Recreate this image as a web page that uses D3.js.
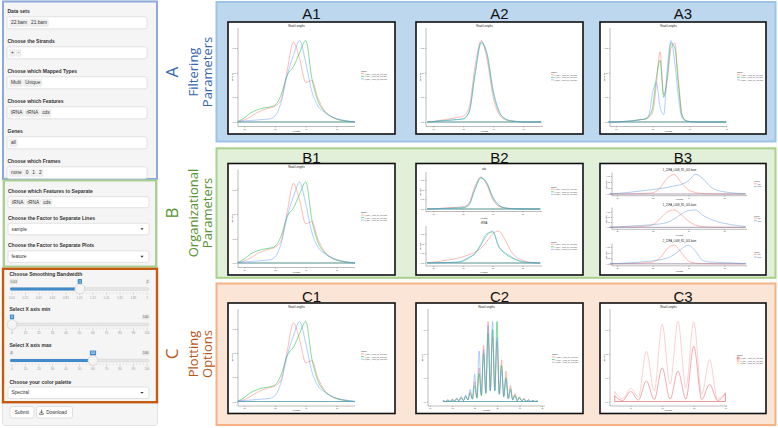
<!DOCTYPE html>
<html>
<head>
<meta charset="utf-8">
<script src="https://cdn.jsdelivr.net/npm/d3@7/dist/d3.min.js"></script>
<style>
html,body{margin:0;padding:0;background:#fff;}
svg{display:block;}
</style>
</head>
<body>
<svg id="fig" width="778" height="428"></svg>
<script>
// ================= DATA =================
const readLengths = [19,20,21,22,23,24,25,26,27,28,29,30,31,32,33,34,35,36,37,38];
const lengthTicks = [20,25,30,35];
const sampleNames = ["1_22FA_L008_R1_001.bam","1_21FA_L008_R1_001.bam","2_22FA_L008_R1_001.bam"];
const featureNames = ["cds","tRNA"];

// A1 / B1 / C1 : all features, three samples
const a1Red   = [0.001,0.004,0.010,0.018,0.024,0.028,0.032,0.045,0.105,0.162,0.128,0.080,0.084,0.048,0.024,0.012,0.006,0.003,0.001,0.000];
const a1Green = [0.001,0.008,0.018,0.024,0.028,0.030,0.034,0.055,0.095,0.112,0.140,0.165,0.088,0.042,0.022,0.012,0.006,0.003,0.001,0.000];
const a1Blue  = [0.001,0.002,0.003,0.004,0.005,0.006,0.012,0.040,0.095,0.135,0.165,0.120,0.062,0.032,0.020,0.012,0.007,0.004,0.002,0.000];

// A2 : unique reads only
const a2Red   = [0.000,0.001,0.003,0.005,0.007,0.009,0.012,0.030,0.115,0.165,0.125,0.050,0.015,0.005,0.002,0.001,0.000,0.000,0.000,0.000];
const a2Green = [0.000,0.001,0.002,0.003,0.004,0.005,0.006,0.020,0.100,0.160,0.135,0.060,0.020,0.006,0.002,0.001,0.000,0.000,0.000,0.000];
const a2Blue  = [0.000,0.001,0.002,0.003,0.004,0.005,0.007,0.022,0.098,0.162,0.138,0.065,0.022,0.007,0.003,0.001,0.000,0.000,0.000,0.000];

// A3 : single frame
const a3Lengths = [19,20,21,22,22.5,23,23.5,24,24.5,25,25.5,26,26.5,27,27.5,28,28.5,29,29.5,30,31,32,33,35];
const a3Red   = [0,0,0.001,0.002,0.003,0.004,0.005,0.006,0.010,0.020,0.075,0.142,0.055,0.085,0.150,0.160,0.085,0.015,0.003,0.001,0,0,0,0];
const a3Green = [0,0,0.001,0.002,0.003,0.004,0.005,0.006,0.012,0.030,0.090,0.125,0.050,0.095,0.160,0.150,0.075,0.012,0.003,0.001,0,0,0,0];
const a3Blue  = [0,0,0.001,0.002,0.003,0.004,0.005,0.007,0.015,0.060,0.080,0.030,0.015,0.110,0.165,0.120,0.050,0.008,0.002,0.001,0,0,0,0];

// B2 : lower facet (upper facet reuses A2 values)
const b2BotRed   = [0.002,0.004,0.008,0.013,0.018,0.024,0.032,0.042,0.055,0.075,0.110,0.150,0.165,0.125,0.065,0.030,0.014,0.006,0.002,0.000];
const b2BotGreen = [0.001,0.001,0.002,0.002,0.003,0.004,0.010,0.025,0.050,0.095,0.150,0.160,0.085,0.050,0.030,0.015,0.006,0.002,0.001,0.000];
const b2BotBlue  = [0.001,0.001,0.002,0.002,0.003,0.004,0.012,0.030,0.045,0.090,0.140,0.165,0.090,0.055,0.035,0.018,0.008,0.003,0.001,0.000];

// B3 : one facet per sample, lines per feature
const b3f1Cds  = [0.000,0.001,0.001,0.002,0.003,0.005,0.010,0.050,0.130,0.163,0.095,0.035,0.012,0.004,0.002,0.001,0.000,0.000,0.000,0.000];
const b3f1Trna = [0.001,0.004,0.010,0.016,0.023,0.030,0.037,0.045,0.055,0.068,0.080,0.110,0.165,0.130,0.065,0.032,0.018,0.010,0.005,0.002];
const b3f2Cds  = [0.000,0.001,0.002,0.003,0.005,0.010,0.025,0.080,0.145,0.165,0.120,0.060,0.020,0.006,0.002,0.001,0.000,0.000,0.000,0.000];
const b3f2Trna = [0.001,0.004,0.008,0.012,0.016,0.020,0.025,0.032,0.045,0.080,0.125,0.160,0.165,0.115,0.080,0.055,0.038,0.025,0.015,0.008];
const b3f3Cds  = [0.000,0.001,0.002,0.003,0.005,0.008,0.015,0.050,0.130,0.165,0.100,0.025,0.006,0.002,0.001,0.000,0.000,0.000,0.000,0.000];
const b3f3Trna = [0.001,0.003,0.006,0.010,0.014,0.020,0.026,0.035,0.050,0.080,0.130,0.163,0.110,0.030,0.015,0.012,0.010,0.008,0.005,0.003];

// C2 : very small bandwidth -> one spike per read length
const c2Lengths    = [13,14,15,16,17,18,19,20,21,22,23,24,25,26,27,28,29,30,31,32,33,34];
const c2RedPeaks   = [0.01,0.02,0.03,0.04,0.05,0.07,0.12,0.25,0.42,0.70,1.00,0.80,0.75,0.52,0.38,0.20,0.10,0.06,0.04,0.02,0.01,0.01];
const c2GreenPeaks = [0.01,0.01,0.02,0.03,0.05,0.06,0.10,0.20,0.35,0.60,0.85,0.90,1.00,0.45,0.30,0.16,0.08,0.05,0.03,0.02,0.01,0.01];
const c2BluePeaks  = [0.01,0.02,0.02,0.04,0.06,0.08,0.15,0.34,0.63,0.65,0.95,1.00,0.80,0.40,0.28,0.14,0.07,0.04,0.03,0.02,0.01,0.00];
const c2RedLows    = [0.00,0.00,0.01,0.01,0.01,0.02,0.03,0.05,0.08,0.12,0.15,0.14,0.10,0.07,0.04,0.02,0.01,0.01,0.00,0.00,0.00];
const c2GreenLows  = [0.00,0.00,0.00,0.01,0.01,0.02,0.03,0.04,0.07,0.10,0.13,0.14,0.09,0.06,0.04,0.02,0.01,0.01,0.00,0.00,0.00];
const c2BlueLows   = [0.00,0.00,0.01,0.01,0.01,0.02,0.03,0.06,0.09,0.11,0.14,0.13,0.09,0.06,0.03,0.02,0.01,0.01,0.00,0.00,0.00];
const c2Ticks = [10,15,20,25,30,35];

// C3 : Spectral palette, zoomed x range
const c3Lengths = [23,23.5,24,24.5,25,25.5,26,26.5,27,27.5,28,28.5,29,29.5,30];
const c3Light   = [0.042,0.012,0.055,0.020,0.210,0.044,0.324,0.072,0.335,0.058,0.332,0.030,0.176,0.010,0.037];
const c3Dark    = [0.024,0.004,0.042,0.006,0.086,0.008,0.141,0.010,0.127,0.010,0.231,0.008,0.072,0.004,0.033];
const c3Ticks = [24,26,28,30];

// left control panel
const filterFields = [
  {label:"Data sets", tags:["22.bam","21.bam"]},
  {label:"Choose the Strands", tags:["+","-"]},
  {label:"Choose which Mapped Types", tags:["Multi","Unique"]},
  {label:"Choose which Features", tags:["tRNA","rRNA","cds"]},
  {label:"Genes", tags:["all"]},
  {label:"Choose which Frames", tags:["none","0","1","2"]}
];
const organizeFields = [
  {label:"Choose which Features to Separate", tags:["tRNA","rRNA","cds"]},
  {label:"Choose the Factor to Separate Lines", select:"sample"},
  {label:"Choose the Factor to Separate Plots", select:"feature"}
];
const bwTickLabels  = ["0.01","0.21","0.41","0.61","0.81","1.01","1.21","1.41","1.61","1.81","2"];
const pctTickLabels = ["0","10","20","30","40","50","60","70","80","90","100"];
const bwValue = 1.01, xMinValue = 0, xMaxValue = 60;
const paletteChoice = "Spectral";

// ================= DRAWING =================
const svg = d3.select("#fig");
const UI = "'Liberation Sans', Arial, Helvetica, sans-serif";
const SEC = "'Open Sans', 'Noto Sans', sans-serif";
const RED = "#F8766D", GREEN = "#00BA38", BLUE = "#619CFF", TEAL = "#5f9bd6";

// ---------- left well ----------
svg.append("rect").attr("x",2.5).attr("y",1).attr("width",155).attr("height",424.5)
  .attr("rx",3).attr("fill","#f5f5f5").attr("stroke","#e3e3e3").attr("stroke-width",1);

function fieldLabel(x, y, t) {
  svg.append("text").attr("x",x).attr("y",y).attr("dominant-baseline","central")
    .attr("font-family",UI).attr("font-weight","bold").attr("font-size",5).attr("fill","#333").text(t);
}
function tagInput(x, y, w, h, tags) {
  svg.append("rect").attr("x",x).attr("y",y).attr("width",w).attr("height",h).attr("rx",2)
    .attr("fill","#fff").attr("stroke","#d2d2d2").attr("stroke-width",0.6);
  let tx = x + 2.6;
  tags.forEach(t => {
    const txt = svg.append("text").attr("x",tx+1.4).attr("y",y+h/2).attr("dominant-baseline","central")
      .attr("font-family",UI).attr("font-size",4.8).attr("fill","#333").text(t);
    const tw = txt.node().getComputedTextLength();
    svg.insert("rect", () => txt.node()).attr("x",tx).attr("y",y+2.4).attr("width",tw+2.8).attr("height",h-4.8)
      .attr("rx",0.8).attr("fill","#f0f0f0").attr("stroke","#e2e2e2").attr("stroke-width",0.4);
    tx += tw + 4;
  });
}
function selectInput(x, y, w, h, t) {
  svg.append("rect").attr("x",x).attr("y",y).attr("width",w).attr("height",h).attr("rx",2)
    .attr("fill","#fff").attr("stroke","#d2d2d2").attr("stroke-width",0.6);
  svg.append("text").attr("x",x+3.5).attr("y",y+h/2).attr("dominant-baseline","central")
    .attr("font-family",UI).attr("font-size",4.8).attr("fill","#333").text(t);
  const cx = x+w-7, cy = y+h/2;
  svg.append("path").attr("d",`M${cx-1.6},${cy-0.8}L${cx+1.6},${cy-0.8}L${cx},${cy+1}Z`).attr("fill","#333");
}

// section boxes (left)
svg.append("rect").attr("x",3).attr("y",1.5).attr("width",154).attr("height",177.5)
  .attr("fill","none").attr("stroke","#8eaadb").attr("stroke-width",2);
svg.append("rect").attr("x",4).attr("y",180.5).attr("width",152).attr("height",86)
  .attr("fill","none").attr("stroke","#a9d18e").attr("stroke-width",2);
svg.append("rect").attr("x",3).attr("y",268.8).attr("width",154).attr("height",133.4)
  .attr("fill","none").attr("stroke","#c55a11").attr("stroke-width",2.4);

filterFields.forEach((f,i) => {
  const ly = 11 + i*30;
  fieldLabel(7.5, ly, f.label);
  tagInput(7, ly+5.8, 140, 12, f.tags);
});
const orgY = [190.7, 217.7, 245.3];
organizeFields.forEach((f,i) => {
  fieldLabel(8, orgY[i], f.label);
  if (f.tags) tagInput(8, orgY[i]+6, 141, 11, f.tags);
  else selectInput(8, orgY[i]+5.6, 141, 11.5, f.select);
});

// sliders
function slider(o) {
  const x = d3.scaleLinear().domain([o.min,o.max]).range([12,147]);
  const pos = d3.scalePoint().domain(o.tickLabels).range([12,147]);
  fieldLabel(9.5, o.trackY-15.5, o.label);
  const rowY = o.trackY - 7.5;
  if (!o.hideMin) {
    const t = svg.append("text").attr("x",10.5).attr("y",rowY).attr("dominant-baseline","central")
      .attr("font-family",UI).attr("font-size",3.4).attr("fill","#555").text(o.tickLabels[0]);
    const w = t.node().getComputedTextLength();
    svg.insert("rect",()=>t.node()).attr("x",9.5).attr("y",rowY-2.4).attr("width",w+2).attr("height",4.8).attr("rx",0.8).attr("fill","#e8e8e8");
  }
  {
    const t = svg.append("text").attr("x",148.5).attr("y",rowY).attr("text-anchor","end").attr("dominant-baseline","central")
      .attr("font-family",UI).attr("font-size",3.4).attr("fill","#555").text(o.tickLabels[o.tickLabels.length-1]);
    const w = t.node().getComputedTextLength();
    svg.insert("rect",()=>t.node()).attr("x",147.5-w).attr("y",rowY-2.4).attr("width",w+2).attr("height",4.8).attr("rx",0.8).attr("fill","#e8e8e8");
  }
  const hx = x(o.value);
  {
    const t = svg.append("text").attr("x",hx).attr("y",rowY).attr("text-anchor","middle").attr("dominant-baseline","central")
      .attr("font-family",UI).attr("font-size",3.4).attr("fill","#fff").text(o.valueText);
    const w = t.node().getComputedTextLength();
    svg.insert("rect",()=>t.node()).attr("x",hx-w/2-1.2).attr("y",rowY-2.6).attr("width",w+2.4).attr("height",5.2).attr("rx",0.8).attr("fill","#428bca");
  }
  svg.append("rect").attr("x",10).attr("y",o.trackY-1.4).attr("width",139).attr("height",2.8).attr("rx",1.4)
    .attr("fill","#e6e6e6").attr("stroke","#d0d0d0").attr("stroke-width",0.4);
  svg.append("rect").attr("x",10).attr("y",o.trackY-1.5).attr("width",Math.max(0,hx-10)).attr("height",3).attr("rx",1.4)
    .attr("fill","#428bca");
  // grid
  const minor = [];
  o.tickLabels.slice(0,-1).forEach((d,i)=>{ const a=pos(d), b=pos(o.tickLabels[i+1]); [0.25,0.5,0.75].forEach(f=>minor.push(a+(b-a)*f)); });
  svg.append("g").selectAll("line").data(minor).join("line")
    .attr("x1",d=>d).attr("x2",d=>d).attr("y1",o.trackY+3.2).attr("y2",o.trackY+4.6).attr("stroke","#c4c4c4").attr("stroke-width",0.4);
  svg.append("g").selectAll("line").data(o.tickLabels).join("line")
    .attr("x1",d=>pos(d)).attr("x2",d=>pos(d)).attr("y1",o.trackY+3.2).attr("y2",o.trackY+6).attr("stroke","#bbb").attr("stroke-width",0.5);
  svg.append("g").selectAll("text").data(o.tickLabels).join("text")
    .attr("x",d=>pos(d)).attr("y",o.trackY+8.5).attr("text-anchor","middle").attr("dominant-baseline","central")
    .attr("font-family",UI).attr("font-size",3.1).attr("fill","#999").text(d=>d);
  svg.append("circle").attr("cx",hx).attr("cy",o.trackY).attr("r",5)
    .attr("fill","#f4f4f4").attr("stroke","#c8c8c8").attr("stroke-width",0.6);
}
slider({label:"Choose Smoothing Bandwidth", trackY:289, min:0.01, max:2, value:bwValue, valueText:"1", tickLabels:bwTickLabels});
slider({label:"Select X axis min", trackY:324.5, min:0, max:100, value:xMinValue, valueText:String(xMinValue), tickLabels:pctTickLabels, hideMin:true});
slider({label:"Select X axis max", trackY:360.5, min:0, max:100, value:xMaxValue, valueText:String(xMaxValue), tickLabels:pctTickLabels});
fieldLabel(9.5, 381.7, "Choose your color palette");
selectInput(8, 387, 141, 11.5, paletteChoice);

// buttons
function button(x, w, t, icon) {
  svg.append("rect").attr("x",x).attr("y",406.5).attr("width",w).attr("height",11.5).attr("rx",2)
    .attr("fill","#fff").attr("stroke","#ccc").attr("stroke-width",0.6);
  svg.append("text").attr("x",x+w/2+(icon?2:0)).attr("y",412.3).attr("text-anchor","middle").attr("dominant-baseline","central")
    .attr("font-family",UI).attr("font-size",4.6).attr("fill","#333").text(t);
  if (icon) {
    const ix = x+5, iy = 412.2;
    svg.append("path").attr("d",`M${ix},${iy-2.4}V${iy+0.6}M${ix-1.4},${iy-0.6}L${ix},${iy+0.9}L${ix+1.4},${iy-0.6}M${ix-2},${iy+1.2}V${iy+2}H${ix+2}V${iy+1.2}`)
      .attr("fill","none").attr("stroke","#333").attr("stroke-width",0.7);
  }
}
button(10, 24, "Submit", false);
button(36.5, 36, "Download", true);

// ---------- right side: section labels ----------
const sections = [
  {letter:"A", lines:["Filtering","Parameters"], color:"#3867b0", cy:72},
  {letter:"B", lines:["Organizational","Parameters"], color:"#56922f", cy:213},
  {letter:"C", lines:["Plotting","Options"], color:"#b9561a", cy:354}
];
sections.forEach(s => {
  svg.append("text").attr("transform",`translate(171,${s.cy}) rotate(-90)`).attr("text-anchor","middle")
    .attr("dominant-baseline","central").attr("font-family",SEC).attr("font-size",17).attr("fill",s.color).text(s.letter);
  s.lines.forEach((l,i) => {
    svg.append("text").attr("transform",`translate(${192.5+i*14.5},${s.cy}) rotate(-90)`).attr("text-anchor","middle")
      .attr("dominant-baseline","central").attr("font-family",SEC).attr("font-size",13).attr("fill",s.color).text(l);
  });
});

// panels
const rows = [
  {y:2, h:139.5, fill:"#bdd7ee", stroke:"#9dc3e6", titleY:13, boxY:22, boxH:112},
  {y:148.3, h:129.5, fill:"#e2f0d9", stroke:"#a9d18e", titleY:157.5, boxY:163.5, boxH:111.5},
  {y:283.5, h:141.5, fill:"#fbe5d6", stroke:"#f4b183", titleY:296, boxY:303, boxH:110.5}
];
const cols = [{x:228, w:167},{x:416, w:167},{x:600, w:166}];
rows.forEach(r => svg.append("rect").attr("x",216.5).attr("y",r.y).attr("width",559).attr("height",r.h)
  .attr("fill",r.fill).attr("stroke",r.stroke).attr("stroke-width",2));

// ---------- mini ggplot charts ----------
function drawFacet(g, f) {
  const x = d3.scaleLinear().domain(f.xDomain).range([f.left, f.right]);
  const yMax = d3.max(f.series, s => d3.max(s.vals));
  const y = d3.scaleLinear().domain([0, yMax]).range([f.zeroY, f.peakY]);
  g.append("text").attr("x",(f.left+f.right)/2).attr("y",f.titleY).attr("text-anchor","middle")
    .attr("dominant-baseline","central").attr("font-family",UI).attr("font-size",2.7).attr("fill","#222").text(f.title);
  const ya = g.append("g").attr("transform",`translate(${f.left},0)`)
    .call(d3.axisLeft(y).tickValues(f.yTicks).tickFormat(d3.format(f.yFmt || ".2f")).tickSize(1).tickPadding(0.8).tickSizeOuter(0));
  ya.select(".domain").attr("d",`M0,${f.top}V${f.axisY}`);
  const xa = g.append("g").attr("transform",`translate(0,${f.axisY})`)
    .call(d3.axisBottom(x).tickValues(f.xTicks).tickSize(1).tickPadding(0.6).tickSizeOuter(0));
  xa.select(".domain").attr("d",`M${f.left},0H${f.right}`);
  [ya, xa].forEach(a => {
    a.attr("font-size",2).attr("font-family",UI);
    a.selectAll("path,line").attr("stroke","#555").attr("stroke-width",0.4);
    a.selectAll("text").attr("fill","#555");
  });
  g.append("text").attr("x",(f.left+f.right)/2).attr("y",f.labelY).attr("text-anchor","middle")
    .attr("dominant-baseline","central").attr("font-family",UI).attr("font-size",2.4).attr("fill","#333").text("Length");
  g.append("text").attr("transform",`translate(${f.left-5.5},${(f.top+f.axisY)/2}) rotate(-90)`).attr("text-anchor","middle")
    .attr("dominant-baseline","central").attr("font-family",UI).attr("font-size",2.4).attr("fill","#333").text("density");
  const area = d3.area().curve(d3.curveMonotoneX).x(d=>x(d[0])).y0(y(0)).y1(d=>y(d[1]));
  g.append("g").selectAll("path").data(f.series).join("path")
    .attr("d", s => area(s.lengths.map((l,i)=>[l, s.vals[i]])))
    .attr("fill","none").attr("stroke",s=>s.color).attr("stroke-width",0.55).attr("stroke-opacity",0.9).attr("stroke-linejoin","round");
}
function drawLegend(g, lg) {
  const step = 2.6;
  const top = lg.cy - (lg.labels.length+1)*step/2;
  g.append("text").attr("x",lg.x).attr("y",top+step*0.5).attr("dominant-baseline","central")
    .attr("font-family",UI).attr("font-size",1.9).attr("fill","#333").text(lg.title);
  const rowsG = g.append("g").selectAll("g").data(lg.labels).join("g")
    .attr("transform",(d,i)=>`translate(${lg.x},${top+step*(i+1.5)})`);
  if (lg.fillKey) {
    rowsG.append("rect").attr("x",0).attr("y",-1).attr("width",2.2).attr("height",2).attr("fill",(d,i)=>lg.colors[i]).attr("fill-opacity",0.5).attr("stroke",(d,i)=>lg.colors[i]).attr("stroke-width",0.3);
  } else {
    rowsG.append("line").attr("x1",0).attr("x2",2.8).attr("stroke",(d,i)=>lg.colors[i]).attr("stroke-width",0.6);
  }
  rowsG.append("text").attr("x",3.6).attr("dominant-baseline","central")
    .attr("font-family",UI).attr("font-size",1.8).attr("fill","#444").text(d=>d);
}
function chartBox(col, row, name) {
  const b = {x:cols[col].x, y:rows[row].boxY, w:cols[col].w, h:rows[row].boxH};
  svg.append("text").attr("x",b.x+b.w/2).attr("y",rows[row].titleY).attr("text-anchor","middle")
    .attr("dominant-baseline","central").attr("font-family",UI).attr("font-size",15).attr("fill","#111").text(name);
  const g = svg.append("g");
  g.append("rect").attr("x",b.x).attr("y",b.y).attr("width",b.w).attr("height",b.h)
    .attr("fill","#fff").attr("stroke","#111").attr("stroke-width",1.6);
  return {g, b};
}
function singleFacet(b, lengths, series, xDomain, xTicks, yTicks) {
  return {left:b.x+10, right:b.x+127, top:b.y+6, peakY:b.y+18.5, zeroY:b.y+b.h-12, axisY:b.y+b.h-7.5,
          titleY:b.y+4, labelY:b.y+b.h-2.6, title:"Read Lengths", xDomain, xTicks, yTicks,
          series: series.map(s => ({lengths, vals:s[0], color:s[1]}))};
}
const threeColors = [RED, GREEN, BLUE];
const stdTicks = [0,0.05,0.10,0.15];

// A1, B1, C1
[[0,0,"A1"],[0,1,"B1"],[0,2,"C1"]].forEach(([c,r,name]) => {
  const {g,b} = chartBox(c,r,name);
  drawFacet(g, singleFacet(b, readLengths, [[a1Red,RED],[a1Green,GREEN],[a1Blue,BLUE]], [19,38], lengthTicks, stdTicks));
  drawLegend(g, {x:b.x+133, cy:b.y+b.h/2-3, title:"sample", labels:sampleNames, colors:threeColors});
});
// A2
{
  const {g,b} = chartBox(1,0,"A2");
  drawFacet(g, singleFacet(b, readLengths, [[a2Red,RED],[a2Green,GREEN],[a2Blue,BLUE]], [18.8,38.3], lengthTicks, stdTicks));
  drawLegend(g, {x:b.x+135, cy:b.y+b.h/2-2, title:"sample", labels:sampleNames, colors:threeColors});
}
// A3
{
  const {g,b} = chartBox(2,0,"A3");
  drawFacet(g, singleFacet(b, a3Lengths, [[a3Red,RED],[a3Green,GREEN],[a3Blue,BLUE]], [19.2,35.1], lengthTicks, stdTicks));
  drawLegend(g, {x:b.x+137, cy:b.y+b.h/2-2, title:"sample", labels:sampleNames, colors:threeColors});
}
// B2 : two facets (by feature)
{
  const {g,b} = chartBox(1,1,"B2");
  const base = {left:b.x+10, right:b.x+126, xDomain:[18.8,38.3], xTicks:lengthTicks, yTicks:stdTicks};
  drawFacet(g, Object.assign({}, base, {title:featureNames[0], titleY:b.y+5.5, top:b.y+8.5, peakY:b.y+13.5, zeroY:b.y+45.5, axisY:b.y+48, labelY:b.y+54.5,
    series:[[a2Red,RED],[a2Green,GREEN],[a2Blue,BLUE]].map(s=>({lengths:readLengths, vals:s[0], color:s[1]}))}));
  drawFacet(g, Object.assign({}, base, {title:featureNames[1], titleY:b.y+59.5, top:b.y+62.5, peakY:b.y+67.5, zeroY:b.y+99.5, axisY:b.y+102.5, labelY:b.y+108.5,
    series:[[b2BotRed,RED],[b2BotGreen,GREEN],[b2BotBlue,BLUE]].map(s=>({lengths:readLengths, vals:s[0], color:s[1]}))}));
  drawLegend(g, {x:b.x+135, cy:b.y+27, title:"sample", labels:sampleNames, colors:threeColors});
  drawLegend(g, {x:b.x+135, cy:b.y+82, title:"sample", labels:sampleNames, colors:threeColors});
}
// B3 : three facets (by sample), lines by feature
{
  const {g,b} = chartBox(2,1,"B3");
  const base = {left:b.x+12, right:b.x+147, xDomain:[19.3,38.2], xTicks:lengthTicks, yTicks:stdTicks};
  const facets = [
    {title:sampleNames[0], t:6.5, peak:10.8, zero:30.5, axis:32.2, lab:36.2, data:[b3f1Cds,b3f1Trna]},
    {title:sampleNames[1], t:41.5, peak:46.5, zero:63.8, axis:65.8, lab:71.8, data:[b3f2Cds,b3f2Trna]},
    {title:sampleNames[2], t:77.5, peak:81.5, zero:100.3, axis:102.3, lab:108, data:[b3f3Cds,b3f3Trna]}
  ];
  facets.forEach(f => {
    drawFacet(g, Object.assign({}, base, {title:f.title, titleY:b.y+f.t, top:b.y+f.t+2.5, peakY:b.y+f.peak, zeroY:b.y+f.zero, axisY:b.y+f.axis, labelY:b.y+f.lab,
      series:[{lengths:readLengths, vals:f.data[0], color:RED},{lengths:readLengths, vals:f.data[1], color:TEAL}]}));
    drawLegend(g, {x:b.x+154, cy:b.y+(f.t+f.axis)/2+1, title:"feature", labels:featureNames, colors:[RED,TEAL]});
  });
}
// C2 : spikes per read length
{
  const {g,b} = chartBox(1,2,"C2");
  const inter = (peaks, lows) => {
    const L = [], V = [];
    c2Lengths.forEach((l,i) => { L.push(l); V.push(peaks[i]); if (i < lows.length) { L.push(l+0.5); V.push(lows[i]); } });
    return {L, V};
  };
  const sers = [[c2RedPeaks,c2RedLows,RED],[c2GreenPeaks,c2GreenLows,GREEN],[c2BluePeaks,c2BlueLows,BLUE]].map(([p,lo,c]) => {
    const r = inter(p,lo); return {lengths:r.L, vals:r.V, color:c};
  });
  const f = singleFacet(b, readLengths, [], [9.6,35.7], c2Ticks, [0,0.3,0.6,0.9]);
  f.left = b.x+12; f.right = b.x+129; f.series = sers; f.yFmt = ".1f";
  drawFacet(g, f);
  drawLegend(g, {x:b.x+136, cy:b.y+b.h/2, title:"sample", labels:sampleNames, colors:threeColors});
}
// C3 : Spectral palette
{
  const {g,b} = chartBox(2,2,"C3");
  const spectral = ["#e0565e","#f4a3a4","#fee08b"];
  const f = singleFacet(b, c3Lengths, [[c3Light,spectral[1]],[c3Dark,spectral[0]]], [22.7,30.1], c3Ticks, [0,0.1,0.2,0.3]);
  f.yFmt = ".1f";
  drawFacet(g, f);
  drawLegend(g, {x:b.x+137, cy:b.y+b.h/2+1, title:"sample", labels:sampleNames, colors:spectral, fillKey:true});
}
</script>
</body>
</html>
